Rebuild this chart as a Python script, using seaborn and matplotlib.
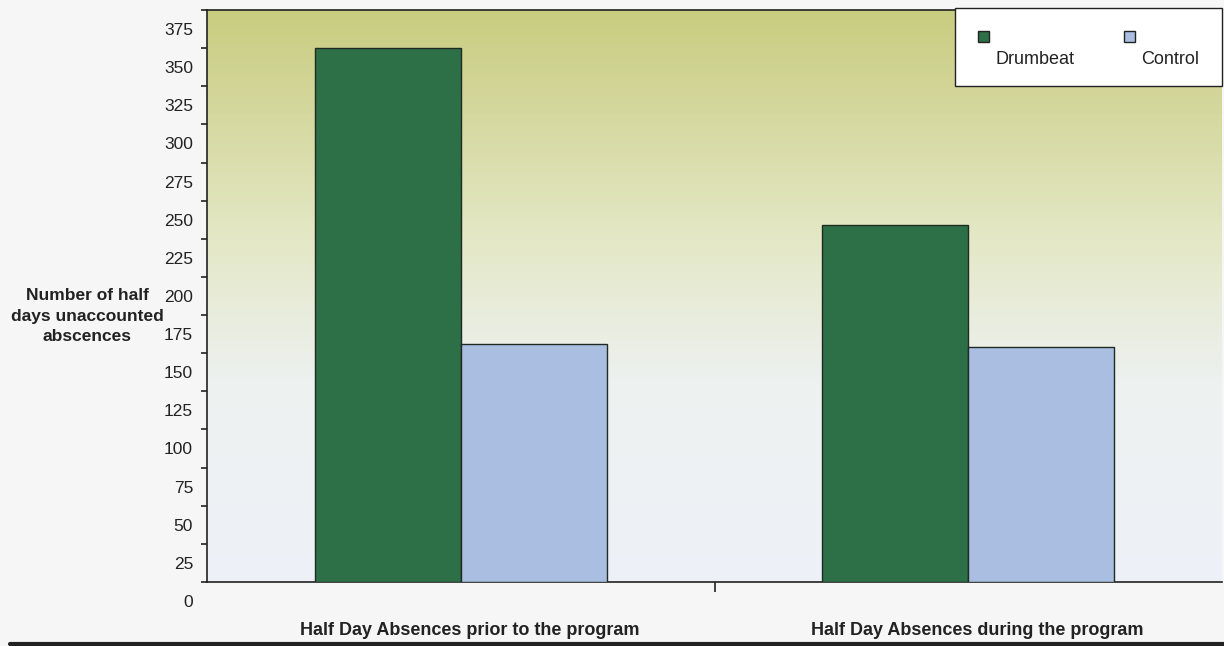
import numpy as np
import pandas as pd
import matplotlib
matplotlib.use("Agg")
import matplotlib.pyplot as plt
import matplotlib.transforms as mtransforms
from matplotlib.patches import Rectangle
from matplotlib.lines import Line2D
from matplotlib.legend_handler import HandlerBase
from matplotlib.colors import LinearSegmentedColormap
import seaborn as sns

categories = ["Half Day Absences prior to the program", "Half Day Absences during the program"]
series = ["Drumbeat", "Control"]
drumbeat = [350, 234]
control = [156, 154]
y_ticks = list(range(0, 376, 25))
y_label = "Number of half\ndays unaccounted\nabscences"

df = pd.DataFrame({
    "category": categories * 2,
    "group": [series[0]] * 2 + [series[1]] * 2,
    "value": drumbeat + control,
})

sns.set_theme(style="white")
plt.rcParams["font.family"] = ["Liberation Sans", "DejaVu Sans"]

W, H, DPI = 12.24, 6.46, 100
fig = plt.figure(figsize=(W, H), dpi=DPI, facecolor="#f6f6f7")
ax = fig.add_axes([207 / 1224, 1 - 582 / 646, (1222 - 207) / 1224, (582 - 10) / 646])

colors = {"Drumbeat": "#2d6f47", "Control": "#a9bee0"}
sns.barplot(data=df, x="category", y="value", hue="group", order=categories,
            hue_order=series, palette=colors, width=0.575, ax=ax,
            edgecolor="#1e2a22", linewidth=1.0, saturation=1, zorder=3, legend=False)

# gradient background
cmap = LinearSegmentedColormap.from_list("bg", [
    (0.0, "#eef2f8"), (0.35, "#edf1f0"), (0.6, "#e4e8c6"), (0.85, "#d3d699"), (1.0, "#c8cd80")])
grad = np.linspace(0, 1, 256).reshape(-1, 1)
ax.imshow(grad, aspect="auto", cmap=cmap, origin="lower",
          extent=(-0.5, 1.5, 0, 375), zorder=0)
ax.set_xlim(-0.5, 1.5)
ax.set_ylim(0, 375)

for s in ["left", "bottom", "top"]:
    ax.spines[s].set_visible(True)
    ax.spines[s].set_color("#222222")
    ax.spines[s].set_linewidth(1.2)
ax.spines["right"].set_visible(False)

ax.set_yticks(y_ticks)
ax.set_yticklabels([str(v) for v in y_ticks], fontsize=12.5, color="#222222")
ax.tick_params(axis="y", direction="out", length=4, width=1.2, color="#222222", pad=6, left=True)
offset = mtransforms.ScaledTranslation(0, -19 / DPI, fig.dpi_scale_trans)
for lab in ax.get_yticklabels():
    lab.set_transform(lab.get_transform() + offset)

# x axis: labels at category centers, one boundary tick in the middle
ax.set_xticks([0, 1])
ax.set_xticklabels(categories, fontsize=13, fontweight="bold", color="#222222")
ax.tick_params(axis="x", length=0, pad=29)
xoff = mtransforms.ScaledTranslation(9 / DPI, 0, fig.dpi_scale_trans)
for lab in ax.get_xticklabels():
    lab.set_transform(lab.get_transform() + xoff)
ax.set_xticks([0.5], minor=True)
ax.tick_params(axis="x", which="minor", direction="out", length=7, width=1.2,
               color="#222222", bottom=True)
ax.set_xlabel("")
ax.set_ylabel("")

fig.text(87 / 1224, 1 - 316 / 646, y_label, ha="center", va="center",
         fontsize=12.5, fontweight="bold", color="#222222", linespacing=1.45)


class RaisedSquare(HandlerBase):
    def create_artists(self, legend, orig_handle, xdescent, ydescent, width, height, fontsize, trans):
        s = 8.0
        r = Rectangle((-xdescent, -ydescent + height / 2 - s / 2 + 15), s, s,
                      facecolor=orig_handle.get_facecolor(), edgecolor="#222222",
                      linewidth=1.0, transform=trans)
        return [r]


# legend frame
ax.add_patch(Rectangle((955 / 1224, 1 - 86 / 646), (1222 - 955) / 1224, 78 / 646,
                       transform=fig.transFigure, facecolor="white", edgecolor="#222222",
                       linewidth=1.0, zorder=4, clip_on=False))

handles = [Rectangle((0, 0), 1, 1, facecolor=colors[s]) for s in series]
leg = ax.legend(handles, series, handler_map={Rectangle: RaisedSquare()},
                ncol=2, loc="center left",
                bbox_to_anchor=(978 / 1224, 1 - 59 / 646), bbox_transform=fig.transFigure,
                fontsize=13, frameon=False, borderpad=0,
                handlelength=0.75, handletextpad=0.2, columnspacing=2.75,
                borderaxespad=0)
for t in leg.get_texts():
    t.set_color("#222222")
leg.set_zorder(5)

# bottom rule across the page
fig.add_artist(Line2D([10 / 1224, 1.0], [1 - 644 / 646] * 2, transform=fig.transFigure,
                      color="#222222", linewidth=3))

fig.savefig("out.png", dpi=DPI, facecolor=fig.get_facecolor())
